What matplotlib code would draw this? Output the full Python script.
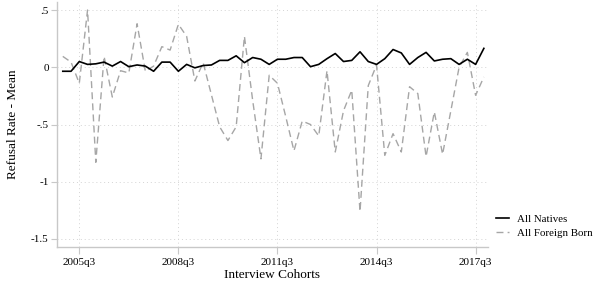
import matplotlib
matplotlib.use("Agg")
import matplotlib.pyplot as plt
from matplotlib.ticker import FuncFormatter

# quarterly cohorts 2005q1 - 2017q4
quarters = [f"{y}q{q}" for y in range(2005, 2018) for q in range(1, 5)]

natives = [-0.035, -0.035, 0.05, 0.025, 0.03, 0.045, 0.01, 0.05, 0.005, 0.02,
           0.01, -0.035, 0.045, 0.045, -0.035, 0.025, -0.005, 0.015, 0.02, 0.06,
           0.06, 0.1, 0.04, 0.085, 0.07, 0.025, 0.07, 0.07, 0.085, 0.085,
           0.005, 0.025, 0.075, 0.12, 0.05, 0.06, 0.135, 0.05, 0.025, 0.075,
           0.155, 0.125, 0.025, 0.085, 0.13, 0.055, 0.07, 0.075, 0.025, 0.07,
           0.025, 0.165]

foreign_born = [0.095, 0.045, -0.14, 0.5, -0.83, 0.095, -0.26, -0.03, -0.05, 0.38,
                -0.035, 0.01, 0.18, 0.15, 0.375, 0.27, -0.12, 0.04, -0.24, -0.52,
                -0.64, -0.52, 0.27, -0.29, -0.8, -0.07, -0.14, -0.43, -0.73, -0.47,
                -0.5, -0.6, -0.03, -0.74, -0.38, -0.2, -1.26, -0.16, 0.02, -0.77,
                -0.58, -0.74, -0.17, -0.23, -0.78, -0.39, -0.76, -0.38, 0.0, 0.13,
                -0.245, -0.085]

xtick_labels = ["2005q3", "2008q3", "2011q3", "2014q3", "2017q3"]
yticks = [-1.5, -1, -0.5, 0, 0.5]

plt.rcParams['font.family'] = ['Liberation Serif', 'DejaVu Serif']

fig = plt.figure(figsize=(5.97, 2.83), dpi=100)
ax = fig.add_axes([57/597, 36/283, 431/597, 245/283])

x = list(range(len(quarters)))
ax.plot(x, natives, color="black", lw=1.2, label="All Natives", zorder=3)
ax.plot(x, foreign_born, color="#a6a6a6", lw=1.0, ls=(0, (5, 3)),
        label="All Foreign Born", zorder=2)

xt = [quarters.index(q) for q in xtick_labels]
ax.set_xticks(xt)
ax.set_xticklabels(xtick_labels, fontsize=8)
ax.set_yticks(yticks)

def fmt(v, pos):
    s = f"{v:g}"
    return s.replace("0.", ".")
ax.yaxis.set_major_formatter(FuncFormatter(fmt))
ax.tick_params(axis="y", labelsize=8, length=4, color="#c8c8c8", width=0.8, pad=2)
ax.tick_params(axis="x", length=5, color="#c8c8c8", width=0.8, pad=3)

ax.set_xlim(-0.7, 51.5)
ax.set_ylim(-1.57, 0.57)

ax.grid(True, ls=(0, (1, 3)), color="#d4d4d4", lw=0.7)
for s in ["top", "right"]:
    ax.spines[s].set_visible(False)
for s in ["left", "bottom"]:
    ax.spines[s].set_color("#c8c8c8")
    ax.spines[s].set_linewidth(1.0)

ax.set_ylabel("Refusal Rate - Mean", fontsize=9.5, labelpad=9)
ax.set_xlabel("Interview Cohorts", fontsize=9.5, labelpad=1)

fig.legend(*ax.get_legend_handles_labels(), loc="upper left",
           bbox_to_anchor=(493/597, 1 - 211/283), frameon=False,
           fontsize=7.8, handlelength=1.2, handletextpad=0.7,
           labelspacing=0.45, borderaxespad=0, borderpad=0.3)

fig.savefig("out.png", dpi=100)
